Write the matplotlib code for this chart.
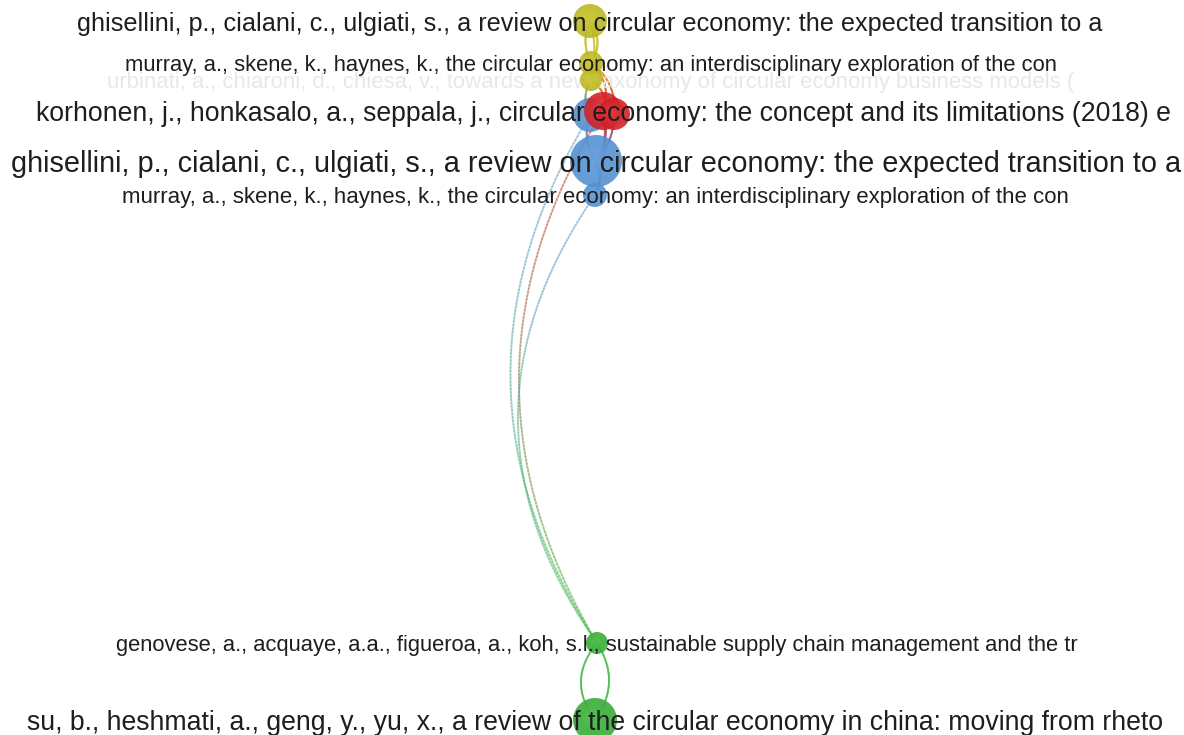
import numpy as np
import matplotlib.pyplot as plt
import matplotlib.colors as mcolors
from matplotlib.patches import Circle
from matplotlib.collections import LineCollection

plt.rcParams['font.family'] = ['Liberation Sans', 'DejaVu Sans']

# --- network data (layout coordinates of the map) ---
labels = [
    "ghisellini, p., cialani, c., ulgiati, s., a review on circular economy: the expected transition to a",
    "murray, a., skene, k., haynes, k., the circular economy: an interdisciplinary exploration of the con",
    "urbinati, a., chiaroni, d., chiesa, v., towards a new taxonomy of circular economy business models (",
    "",
    "korhonen, j., honkasalo, a., seppala, j., circular economy: the concept and its limitations (2018) e",
    "",
    "ghisellini, p., cialani, c., ulgiati, s., a review on circular economy: the expected transition to a",
    "murray, a., skene, k., haynes, k., the circular economy: an interdisciplinary exploration of the con",
    "genovese, a., acquaye, a.a., figueroa, a., koh, s.l., sustainable supply chain management and the tr",
    "su, b., heshmati, a., geng, y., yu, x., a review of the circular economy in china: moving from rheto",
]
node_x = [590, 591, 591, 590, 603, 614, 596, 595, 597, 595]
node_y = [21, 63, 80, 115, 111, 114, 161, 195, 643, 720]
node_size = [17, 12, 11, 17, 19, 16, 26, 12, 11, 22]
cluster = [3, 3, 3, 2, 1, 1, 2, 2, 4, 4]
label_size = [18.2, 15.8, 15.9, 0, 19.2, 0, 20.8, 16.0, 15.8, 19.2]
label_faded = [False, False, True, False, False, False, False, False, False, False]

# links: (source, target, sideways bend of the arc)
links = [
    (0, 1, 7), (0, 1, -5), (0, 2, 4), (1, 4, 8), (2, 4, 6),
    (2, 3, -5), (1, 5, 8), (3, 6, -6), (4, 6, 6), (5, 6, 5),
    (6, 7, 4), (4, 7, 5),
    (3, 8, -83), (4, 8, -81), (7, 8, -78),
    (8, 9, 13), (8, 9, -15),
]

cluster_colors = {1: '#e2232a', 2: '#5a9ade', 3: '#c9c526', 4: '#3cb93c'}

fig = plt.figure(figsize=(11.84, 7.35), dpi=100, facecolor='white')
ax = fig.add_axes([0, 0, 1, 1])
ax.set_xlim(0, 1184)
ax.set_ylim(735, 0)
ax.axis('off')


def arc(p0, p2, bend, n=150):
    p0 = np.array(p0, float)
    p2 = np.array(p2, float)
    d = p2 - p0
    normal = np.array([d[1], -d[0]]) / np.hypot(*d)
    ctrl = (p0 + p2) / 2 + normal * bend * 2
    t = np.linspace(0, 1, n)[:, None]
    return (1 - t) ** 2 * p0 + 2 * (1 - t) * t * ctrl + t ** 2 * p2


# links, coloured from source cluster to target cluster
for s, t, bend in links:
    pts = arc((node_x[s], node_y[s]), (node_x[t], node_y[t]), bend)
    segs = np.stack([pts[:-1], pts[1:]], axis=1)
    c0 = np.array(mcolors.to_rgb(cluster_colors[cluster[s]]))
    c1 = np.array(mcolors.to_rgb(cluster_colors[cluster[t]]))
    w = np.linspace(0, 1, len(segs))[:, None]
    cols = np.hstack([(1 - w) * c0 + w * c1, np.full((len(segs), 1), 0.4)])
    ax.add_collection(LineCollection(segs, colors=cols, linewidths=1.4,
                                     capstyle='round', zorder=1))

# nodes with soft shading
for x, y, r, c in zip(node_x, node_y, node_size, cluster):
    base = np.array(mcolors.to_rgb(cluster_colors[c]))
    ax.add_patch(Circle((x, y), r, facecolor=base * 0.92, edgecolor='none',
                        alpha=0.88, zorder=2))
    for k in range(1, 6):
        f = k / 6
        col = base * (1 - 0.2 * f) + 0.2 * f
        ax.add_patch(Circle((x - r * 0.15 * f, y - r * 0.15 * f), r * (1 - 0.14 * k),
                            facecolor=col, edgecolor='none', alpha=0.22, zorder=2))

# labels
for x, y, lab, fs, faded in zip(node_x, node_y, labels, label_size, label_faded):
    if not lab:
        continue
    ax.text(x, y, lab, fontsize=fs, ha='center', va='center_baseline',
            color='#e8e8e8' if faded else '#1e1e1e', zorder=1.5 if faded else 3)

fig.savefig('out.png', dpi=100, facecolor='white')
